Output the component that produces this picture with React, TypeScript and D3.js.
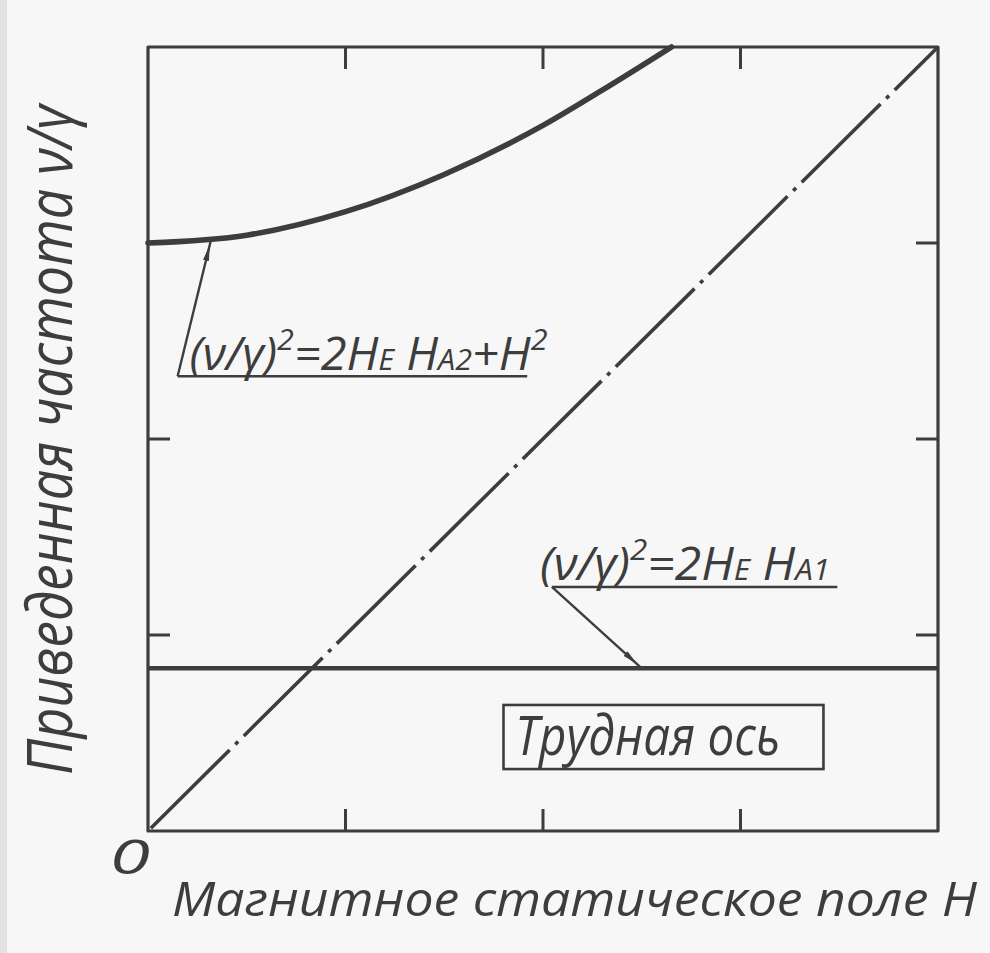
import React, { useEffect } from "react";
import * as d3 from "d3";

// axis ticks (no numeric labels on the drawing, only "0" at the origin)
const xTicks = [0, 1, 2, 3, 4];
const yTicks = [0, 1, 2, 3, 4];

// upper branch: (v/g)^2 = 2 He Ha2 + H^2
const curveH = [0, 0.5, 1, 1.5, 2, 2.3, 2.65];
const curveNu = [3.0, 3.04, 3.16, 3.35, 3.6, 3.78, 4.0];

// hard axis level: (v/g)^2 = 2 He Ha1
const flatH = [0, 4];
const flatNu = [0.83, 0.83];

// dash-dot diagonal v/g = H
const diagH = [0, 4];
const diagNu = [0, 4];

const ink = "#3d3d3d";
const font = "'Open Sans', 'DejaVu Sans', sans-serif";

const App = () => {
  const width = 990;
  const height = 953;

  useEffect(() => {
    document.body.style.margin = "0";
    document.body.style.background = "#f7f7f7";
  }, []);

  const x = d3.scaleLinear().domain([0, 4]).range([148, 938]);
  const y = d3.scaleLinear().domain([0, 4]).range([831, 47]);

  const line = d3
    .line<[number, number]>()
    .x((d) => x(d[0]))
    .y((d) => y(d[1]));

  const smooth = d3
    .line<[number, number]>()
    .x((d) => x(d[0]))
    .y((d) => y(d[1]))
    .curve(d3.curveMonotoneX);

  const curvePts = curveH.map((h, i) => [h, curveNu[i]] as [number, number]);
  const flatPts = flatH.map((h, i) => [h, flatNu[i]] as [number, number]);
  const diagPts = diagH.map((h, i) => [h, diagNu[i]] as [number, number]);

  const tickLen = 22;
  const inner = xTicks.slice(1, -1);
  const innerY = yTicks.slice(1, -1);

  // annotation anchors in data units
  const lead1From = [0.15, 2.32];
  const lead1To = [0.32, 3.02];
  const lead2From = [2.045, 1.245];
  const lead2To = [2.5, flatNu[0]];

  const supDy = -20;

  return (
    <svg width={width} height={height} style={{ display: "block", background: "#f7f7f7" }}>
      <defs>
        <marker
          id="arr"
          markerUnits="userSpaceOnUse"
          markerWidth={20}
          markerHeight={8}
          refX={22}
          refY={3}
          orient="auto"
        >
          <path d="M0,0 L16,3 L0,6 Z" fill={ink} />
        </marker>
      </defs>
      <rect x={0} y={0} width={width} height={height} fill="#f7f7f7" />
      <rect x={0} y={0} width={7} height={height} fill="#e2e2e2" />

      {/* frame */}
      <rect
        x={x(0)}
        y={y(4)}
        width={x(4) - x(0)}
        height={y(0) - y(4)}
        fill="none"
        stroke={ink}
        strokeWidth={3.2}
        strokeLinejoin="round"
      />
      {inner.map((t) => (
        <g key={"xt" + t} stroke={ink} strokeWidth={3}>
          <line x1={x(t)} x2={x(t)} y1={y(0)} y2={y(0) - tickLen} />
          <line x1={x(t)} x2={x(t)} y1={y(4)} y2={y(4) + tickLen} />
        </g>
      ))}
      {innerY.map((t) => (
        <g key={"yt" + t} stroke={ink} strokeWidth={3}>
          <line x1={x(0)} x2={x(0) + tickLen} y1={y(t)} y2={y(t)} />
          <line x1={x(4)} x2={x(4) - tickLen} y1={y(t)} y2={y(t)} />
        </g>
      ))}

      {/* curves */}
      <path
        d={line(diagPts) || ""}
        fill="none"
        stroke={ink}
        strokeWidth={3.6}
        strokeDasharray="111 8 4 8"
        strokeDashoffset={-4}
        strokeLinecap="butt"
      />
      <path d={line(flatPts) || ""} fill="none" stroke={ink} strokeWidth={4.5} />
      <path d={smooth(curvePts) || ""} fill="none" stroke={ink} strokeWidth={5.5} strokeLinecap="round" />

      {/* label 1 */}
      <line
        x1={x(lead1From[0])}
        y1={y(lead1From[1])}
        x2={x(1.92)}
        y2={y(lead1From[1])}
        stroke={ink}
        strokeWidth={2.4}
      />
      <line
        x1={x(lead1From[0])}
        y1={y(lead1From[1])}
        x2={x(lead1To[0])}
        y2={y(lead1To[1])}
        stroke={ink}
        strokeWidth={2.4}
        markerEnd="url(#arr)"
      />
      <text
        x={x(0.21)}
        y={y(2.35)}
        fontFamily={font}
        fontStyle="italic"
        fontSize={46}
        fill={ink}
        textLength={358}
        lengthAdjust="spacingAndGlyphs"
      >
        <tspan>(ν/γ)</tspan>
        <tspan dy={supDy} fontSize={30}>2</tspan>
        <tspan dy={-supDy}>=2H</tspan>
        <tspan fontSize={30}>E</tspan>
        <tspan> H</tspan>
        <tspan fontSize={30}>A2</tspan>
        <tspan>+H</tspan>
        <tspan dy={supDy} fontSize={30}>2</tspan>
      </text>

      {/* label 2 */}
      <line
        x1={x(lead2From[0])}
        y1={y(lead2From[1])}
        x2={x(3.49)}
        y2={y(lead2From[1])}
        stroke={ink}
        strokeWidth={2.4}
      />
      <line
        x1={x(lead2From[0])}
        y1={y(lead2From[1])}
        x2={x(lead2To[0])}
        y2={y(lead2To[1])}
        stroke={ink}
        strokeWidth={2.4}
        markerEnd="url(#arr)"
      />
      <text
        x={x(1.985)}
        y={y(1.28)}
        fontFamily={font}
        fontStyle="italic"
        fontSize={46}
        fill={ink}
        textLength={290}
        lengthAdjust="spacingAndGlyphs"
      >
        <tspan>(ν/γ)</tspan>
        <tspan dy={supDy} fontSize={30}>2</tspan>
        <tspan dy={-supDy}>=2H</tspan>
        <tspan fontSize={30}>E</tspan>
        <tspan> H</tspan>
        <tspan fontSize={30}>A1</tspan>
      </text>

      {/* hard axis box */}
      <rect
        x={x(1.8)}
        y={y(0.643)}
        width={x(3.42) - x(1.8)}
        height={y(0.316) - y(0.643)}
        fill="none"
        stroke={ink}
        strokeWidth={2.6}
      />
      <text
        x={x(1.86)}
        y={y(0.388)}
        fontFamily={font}
        fontStyle="italic"
        fontSize={54}
        fill={ink}
        textLength={265}
        lengthAdjust="spacingAndGlyphs"
      >
        Трудная ось
      </text>

      {/* origin */}
      <text
        x={110}
        y={874}
        fontFamily={font}
        fontStyle="italic"
        fontSize={48}
        fill={ink}
        textLength={40}
        lengthAdjust="spacingAndGlyphs"
      >
        0
      </text>

      {/* axis titles */}
      <text
        x={172}
        y={916}
        fontFamily={font}
        fontStyle="italic"
        fontSize={48}
        fill={ink}
        textLength={805}
        lengthAdjust="spacingAndGlyphs"
      >
        Магнитное статическое поле H
      </text>
      <text
        transform={`translate(72, 440) rotate(-90)`}
        textAnchor="middle"
        fontFamily={font}
        fontStyle="italic"
        fontSize={62}
        fill={ink}
        textLength={670}
        lengthAdjust="spacingAndGlyphs"
      >
        Приведенная частота ν/γ
      </text>
    </svg>
  );
};

export default App;
